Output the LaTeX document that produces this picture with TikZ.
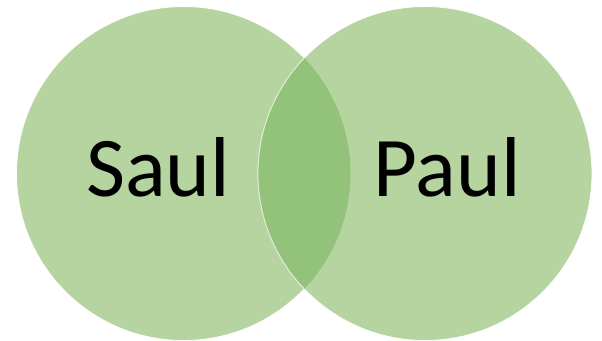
\documentclass[tikz,border=0pt]{standalone}
\usepackage{fontspec}
\setmainfont{Carlito}
\usetikzlibrary{positioning}
\definecolor{lightgreen}{HTML}{B5D4A0}
\definecolor{midgreen}{HTML}{93C27A}

\begin{document}
\begin{tikzpicture}[x=1pt,y=1pt,
  ring/.style={circle,fill=lightgreen,draw=white,line width=0.8pt,minimum size=334pt,inner sep=0pt},
  bigword/.style={font=\fontsize{85}{90}\selectfont,anchor=base,inner sep=0pt}]
\useasboundingbox (0,0) rectangle (602,340);
\node[ring] (saulc) at (183.5,166.5) {};
\node[ring] (paulc) at (425,166.5) {};
% overlap of the two circles
\begin{scope}
\clip (saulc.center) circle (167);
\fill[midgreen] (paulc.center) circle (167);
\end{scope}
\begin{scope}
\clip (saulc.center) circle (166.5);
\draw[white!70!midgreen,line width=0.8pt] (paulc.center) circle (167);
\end{scope}
\node[bigword] (saul) at (158,143) {Saul};
\node[bigword] (paul) at (447,143) {Paul};
\end{tikzpicture}
\end{document}
